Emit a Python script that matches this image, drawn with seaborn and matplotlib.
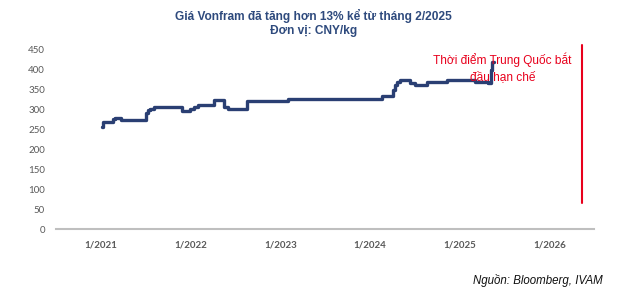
import matplotlib
matplotlib.use("Agg")
import matplotlib.pyplot as plt
import seaborn as sns
import pandas as pd

# ---- data ----
dates = ["2021-01-04", "2021-01-08", "2021-02-18", "2021-02-25", "2021-03-05", "2021-03-22",
         "2021-07-01", "2021-07-10", "2021-07-20", "2021-08-05", "2021-11-25", "2021-12-29",
         "2022-01-15", "2022-01-31", "2022-04-05", "2022-05-16", "2022-06-01", "2022-08-18",
         "2023-02-01", "2024-02-20", "2024-04-04", "2024-04-12", "2024-04-20", "2024-05-01",
         "2024-06-13", "2024-07-02", "2024-08-20", "2024-11-10", "2025-03-04", "2025-04-26",
         "2025-05-06", "2025-05-12", "2025-05-18"]
values = [257, 268, 276, 280, 280, 274,
          292, 299, 301, 307, 297, 301,
          306, 312, 324, 307, 301, 322,
          328, 335, 349, 362, 370, 374,
          366, 362, 370, 374, 370, 368,
          400, 420, 420]
year_labels = ["1/2021", "1/2022", "1/2023", "1/2024", "1/2025", "1/2026"]
y_ticks = [0, 50, 100, 150, 200, 250, 300, 350, 400, 450]
event_date = "2026-05-15"
event_range = [65, 462]

title_1 = "Giá Vonfram đã tăng hơn 13% kể từ tháng 2/2025"
title_2 = "Đơn vị: CNY/kg"
note_text = "Thời điểm Trung Quốc bắt\nđầu hạn chế"
source_text = "Nguồn: Bloomberg, IVAM"

df = pd.DataFrame({"date": pd.to_datetime(dates), "price": values})

sns.set_style("white")
plt.rcParams["font.family"] = ["Liberation Sans", "DejaVu Sans"]

fig = plt.figure(figsize=(6.19, 2.94), dpi=100)
ax = fig.add_axes([0.0905, 0.221, 0.869, 0.609])

sns.lineplot(data=df, x="date", y="price", ax=ax, color="#2A3F73",
             linewidth=2.4, drawstyle="steps-post")

ax.set_ylim(0, 450)
ax.set_xlim(pd.Timestamp("2020-07-01"), pd.Timestamp("2026-07-01"))
ax.set_yticks(y_ticks)
ax.set_yticklabels([str(v) for v in y_ticks], fontsize=7, color="#595959",
                   family=["Lato", "DejaVu Sans"])

years = [pd.Timestamp(f"{2021 + i}-01-01") for i in range(len(year_labels))]
ax.set_xticks(years)
ax.set_xticklabels(year_labels, fontsize=7, fontweight="bold", color="#595959",
                   family=["Lato", "DejaVu Sans"])
ax.set_xticks([pd.Timestamp(f"{y}-07-01") for y in range(2020, 2027)], minor=True)
ax.tick_params(axis="x", which="major", length=0, pad=8)
ax.tick_params(axis="x", which="minor", length=3, width=1.2, color="#BFBFBF", direction="out")
ax.tick_params(axis="y", length=0, pad=8)
ax.set_xlabel("")
ax.set_ylabel("")
ax.grid(False)
for s in ["top", "right", "left"]:
    ax.spines[s].set_visible(False)
ax.spines["bottom"].set_color("#BFBFBF")
ax.spines["bottom"].set_linewidth(1.5)

ev = pd.Timestamp(event_date)
ax.plot([ev, ev], event_range, color="#E8001C", linewidth=1.5, clip_on=False)
ax.text(pd.Timestamp("2025-06-23"), 405, note_text, color="#E8001C", fontsize=8.6,
        ha="center", va="center", linespacing=1.45)

fig.text(0.507, 0.945, title_1, ha="center", va="center", fontsize=8.6,
         fontweight="bold", color="#2E4A7D")
fig.text(0.507, 0.893, title_2, ha="center", va="center", fontsize=8.6,
         fontweight="bold", color="#2E4A7D")
fig.text(0.974, 0.045, source_text, ha="right", va="center", fontsize=8.3,
         style="italic", color="#111111")

fig.savefig("out.png", dpi=100)
